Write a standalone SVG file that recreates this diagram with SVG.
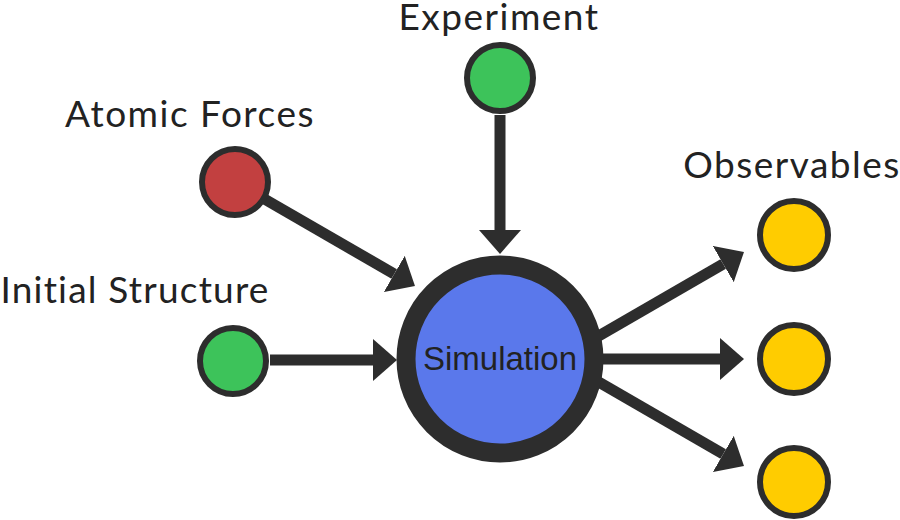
<svg xmlns="http://www.w3.org/2000/svg" width="900" height="520" viewBox="0 0 900 520">
<style>
.lbl{font-family:Lato,"Open Sans","DejaVu Sans",sans-serif;font-size:37px;letter-spacing:1.5px;fill:#222;text-anchor:middle}
.small{stroke:#2d2d2d;stroke-width:6}
.conn{stroke:#2d2d2d;stroke-width:11;fill:none;marker-end:url(#ah)}
</style>
<defs>
<marker id="ah" markerUnits="userSpaceOnUse" viewBox="0 0 24 42" refX="0" refY="21" markerWidth="24" markerHeight="42" orient="auto">
<path d="M0,0 L24,21 L0,42 Z" fill="#2d2d2d"/>
</marker>
</defs>
<rect width="900" height="520" fill="#fff"/>
<g id="connectors">
<line class="conn" x1="500" y1="115" x2="500" y2="230"/>
<line class="conn" x1="235" y1="182" x2="394.2" y2="274"/>
<line class="conn" x1="270" y1="360" x2="373" y2="360"/>
<line class="conn" x1="590" y1="341" x2="723.2" y2="264"/>
<line class="conn" x1="590" y1="359" x2="720" y2="359"/>
<line class="conn" x1="590" y1="377" x2="723.2" y2="454"/>
</g>
<g id="simulation">
<circle cx="500" cy="359" r="94" fill="#5a78eb" stroke="#2d2d2d" stroke-width="19"/>
<text x="500" y="370" font-family="Liberation Sans,Arial,sans-serif" font-size="33" fill="#222" text-anchor="middle">Simulation</text>
</g>
<g id="experiment">
<circle class="small" cx="500" cy="78" r="33" fill="#3dc35a"/>
<text class="lbl" x="499" y="29.5">Experiment</text>
</g>
<g id="atomic-forces">
<circle class="small" cx="235" cy="182" r="33" fill="#c24040"/>
<text class="lbl" x="190" y="127">Atomic Forces</text>
</g>
<g id="initial-structure">
<circle class="small" cx="233" cy="361" r="33" fill="#3dc35a"/>
<text class="lbl" x="135" y="303" style="letter-spacing:1.2px">Initial Structure</text>
</g>
<g id="observables">
<text class="lbl" x="792" y="178">Observables</text>
<circle class="small" cx="794" cy="235" r="34" fill="#ffcc00"/>
<circle class="small" cx="794" cy="359" r="34" fill="#ffcc00"/>
<circle class="small" cx="794" cy="482" r="34" fill="#ffcc00"/>
</g>
</svg>
